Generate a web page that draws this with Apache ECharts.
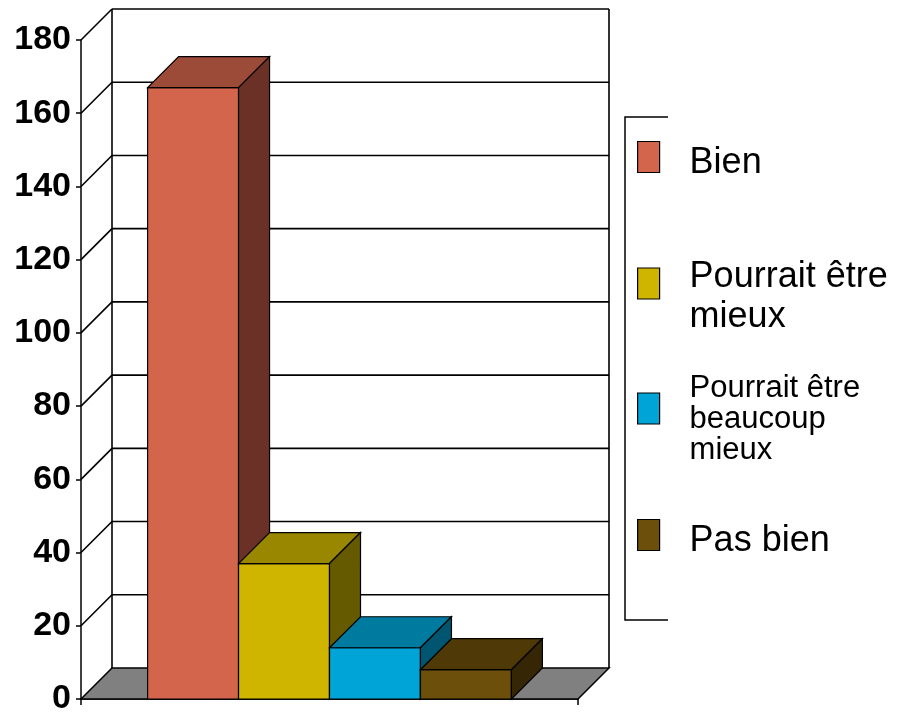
<!DOCTYPE html>
<html>
<head>
<meta charset="utf-8">
<title>Graphique</title>
<script src="https://cdn.jsdelivr.net/npm/echarts@6/dist/echarts.min.js"></script>
<style>
html, body { margin: 0; padding: 0; background: #fff; }
#chart { width: 904px; height: 717px; }
</style>
</head>
<body>
<div id="chart"></div>
<script>
// valeurs
var categories = ['Bien', 'Pourrait être mieux', 'Pourrait être beaucoup mieux', 'Pas bien']
var values = [167, 37, 14, 8]
var yTicks = [0, 20, 40, 60, 80, 100, 120, 140, 160, 180]

var faceColors = ['#D2654B', '#CFB500', '#00A4D6', '#6B4F0A']
var topColors = ['#9C4B38', '#998700', '#007BA0', '#4F3A07']
var sideColors = ['#6B3126', '#665A00', '#005670', '#352705']
var legendLines = [['Bien'], ['Pourrait être', 'mieux'], ['Pourrait être', 'beaucoup', 'mieux'], ['Pas bien']]
// espace au-dessus du texte (décale le texte sous le centre du carré)
var legendShift = [12, 28, 22, 12]
var legendTops = [136.5, 243, 361.5, 514.5]

var DEPTH = 31
var chart = echarts.init(document.getElementById('chart'))

function renderFrame (params, api) {
  var cs = params.coordSys
  var left = cs.x
  var right = cs.x + cs.width
  var y0 = api.coord([0, yTicks[0]])[1]
  var yTop = api.coord([0, yTicks[yTicks.length - 1]])[1]
  var d = DEPTH
  var st = { stroke: '#000', lineWidth: 1.6 }
  var children = [{
    type: 'polygon',
    shape: { points: [[left, y0], [right, y0], [right + d, y0 - d], [left + d, y0 - d]] },
    style: { fill: '#808080', stroke: '#000', lineWidth: 1.5 }
  }, {
    type: 'line',
    shape: { x1: left + d, y1: yTop - d, x2: left + d, y2: y0 - d },
    style: st
  }, {
    type: 'line',
    shape: { x1: right + d, y1: yTop - d, x2: right + d, y2: y0 - d },
    style: st
  }]
  yTicks.forEach(function (v) {
    if (v === yTicks[0]) return
    var y = api.coord([0, v])[1]
    children.push({
      type: 'line',
      shape: { x1: left + d, y1: y - d, x2: right + d, y2: y - d },
      style: st
    })
    children.push({
      type: 'line',
      shape: { x1: left, y1: y, x2: left + d, y2: y - d },
      style: st
    })
  })
  return { type: 'group', children: children }
}

function renderBar (params, api) {
  var i = params.seriesIndex - 1
  var band = api.size([1, 0])[0]
  var barW = band * 0.183
  var base = api.coord([0, 0])
  var x0 = base[0] + (i - categories.length / 2) * barW
  var x1 = x0 + barW
  var yb = base[1]
  var yt = api.coord([0, api.value(1)])[1]
  var d = DEPTH
  var edge = { stroke: '#000', lineWidth: 1.2 }
  return {
    type: 'group',
    children: [{
      type: 'rect',
      shape: { x: x0, y: yt, width: barW, height: yb - yt },
      style: Object.assign({ fill: faceColors[i] }, edge)
    }, {
      type: 'polygon',
      shape: { points: [[x0, yt], [x1, yt], [x1 + d, yt - d], [x0 + d, yt - d]] },
      style: Object.assign({ fill: topColors[i] }, edge)
    }, {
      type: 'polygon',
      shape: { points: [[x1, yt], [x1 + d, yt - d], [x1 + d, yb - d], [x1, yb]] },
      style: Object.assign({ fill: sideColors[i] }, edge)
    }]
  }
}

var rich = {
  big: { fontFamily: 'Liberation Sans', fontSize: 36, lineHeight: 40, color: '#000', padding: [0, 0, 0, 25] },
  small: { fontFamily: 'Liberation Sans', fontSize: 31, lineHeight: 31, color: '#000', padding: [0, 0, 0, 25] }
}
legendShift.forEach(function (h, i) {
  rich['s' + i] = { fontSize: 1, lineHeight: h }
})

var series = [{
  name: 'cadre',
  type: 'custom',
  renderItem: renderFrame,
  data: [[0, 0]],
  clip: false,
  silent: true,
  z: 1
}]
categories.forEach(function (name, i) {
  series.push({
    name: name,
    type: 'custom',
    renderItem: renderBar,
    data: [[0, values[i]]],
    itemStyle: { color: faceColors[i] },
    clip: false,
    z: 2
  })
})

var legends = categories.map(function (name, i) {
  return {
    orient: 'vertical',
    left: 637,
    top: legendTops[i],
    padding: 0,
    itemWidth: 22,
    itemHeight: 31,
    icon: 'rect',
    selectedMode: false,
    data: [name],
    itemStyle: { borderColor: '#000', borderWidth: 1.2 },
    textStyle: { fontSize: 1, rich: rich },
    formatter: function (n) {
      var key = i === 2 ? 'small' : 'big'
      var body = legendLines[i].map(function (l) { return '{' + key + '|' + l + '}' }).join('\n')
      return '{s' + i + '| }\n' + body
    }
  }
})

chart.setOption({
  backgroundColor: '#fff',
  animation: false,
  grid: { left: 81, top: 40, right: 326, bottom: 18 },
  xAxis: {
    type: 'category',
    data: ['Réponses'],
    axisLine: { lineStyle: { color: '#000', width: 1.5 } },
    axisTick: { show: true, length: 6, lineStyle: { color: '#000', width: 1.5 } },
    axisLabel: { show: false },
    splitLine: { show: false }
  },
  yAxis: {
    type: 'value',
    min: yTicks[0],
    max: yTicks[yTicks.length - 1],
    interval: yTicks[1] - yTicks[0],
    axisLine: { show: true, lineStyle: { color: '#000', width: 1.5 } },
    axisTick: { show: true, length: 5, lineStyle: { color: '#000', width: 1.5 } },
    axisLabel: {
      color: '#000',
      fontFamily: 'Liberation Sans Narrow, Liberation Sans, sans-serif',
      fontWeight: 'bold',
      fontSize: 34,
      margin: 10
    },
    splitLine: { show: false }
  },
  legend: legends,
  graphic: [{
    type: 'polyline',
    shape: { points: [[668, 117], [625, 117], [625, 620], [668, 620]] },
    style: { stroke: '#000', lineWidth: 1.5, fill: null }
  }],
  series: series
})
</script>
</body>
</html>
